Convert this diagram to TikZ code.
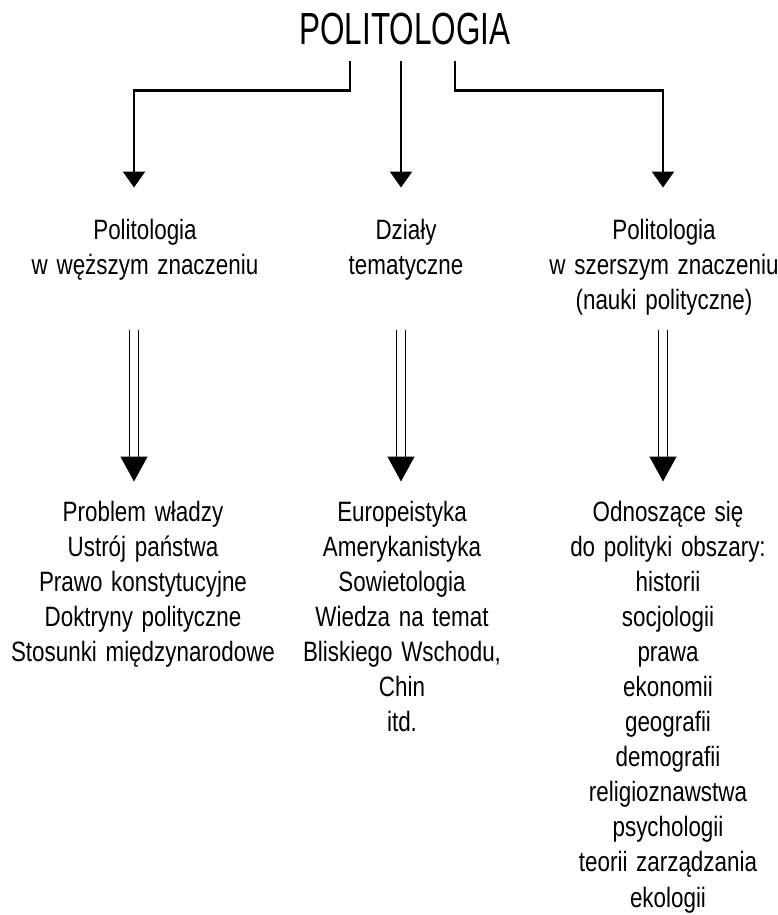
\documentclass[tikz,border=0pt]{standalone}
\usepackage{fontspec}
\setmainfont{Liberation Sans}[FakeStretch=0.8, WordSpace=1.4]
\newfontfamily\tytulfont{Liberation Sans}[FakeStretch=0.7]
\usetikzlibrary{arrows.meta}
\tikzset{x=1pt, y=1pt,
         every node/.style={ % Text only, no frames
           inner sep=0pt,
           align=center,
           anchor=base,      % base = baseline of the last line
           font=\fontsize{28}{35}\selectfont},
         strzalka/.style={   % Single arrows from the title
           draw,
           line width=2.4pt,
           -{Triangle[width=22pt,length=16pt]}},
         podwojna/.style={   % Double arrows down to the lists
           draw,
           double,
           double distance=8pt,
           line width=1.1pt,
           -{Triangle[width=27pt,length=25pt]},
           shorten >=20pt}}

\begin{document}
\begin{tikzpicture}
\useasboundingbox (0,0) rectangle (778,915);

\node[font=\tytulfont\fontsize{45}{50}\selectfont] (tytul) at (405,870) {POLITOLOGIA};

\node (waska) at (145,640) {Politologia\\w węższym znaczeniu};
\node (dzialy) at (406,640) {Działy\\tematyczne};
\node (szeroka) at (664,605) {Politologia\\w szerszym znaczeniu\\(nauki polityczne)};

\node (listaW) at (143,253) {Problem władzy\\Ustrój państwa\\Prawo konstytucyjne\\Doktryny polityczne\\Stosunki międzynarodowe};
\node (listaD) at (402,183) {Europeistyka\\Amerykanistyka\\Sowietologia\\Wiedza na temat\\Bliskiego Wschodu,\\Chin\\itd.};
\node (listaS) at (668,8) {Odnoszące się\\do polityki obszary:\\historii\\socjologii\\prawa\\ekonomii\\geografii\\demografii\\religioznawstwa\\psychologii\\teorii zarządzania\\ekologii};

\draw[strzalka, shorten <=15pt, shorten >=32pt] ([xshift=-55pt]tytul.south) -- ++(0,-45) -| ([xshift=-11pt]waska.north);
\draw[strzalka, shorten <=15pt, shorten >=32pt] ([xshift=-4pt]tytul.south) -- ([xshift=-4pt]tytul.south |- dzialy.north);
\draw[strzalka, shorten <=15pt, shorten >=32pt] ([xshift=50pt]tytul.south) -- ++(0,-45) -| ([xshift=-1pt]szeroka.north);

\draw[podwojna, shorten <=49pt] ([xshift=-11pt]waska.south) -- ([xshift=-11pt]waska.south |- listaW.north);
\draw[podwojna, shorten <=49pt] ([xshift=-5pt]dzialy.south) -- ([xshift=-5pt]dzialy.south |- listaD.north);
\draw[podwojna, shorten <=14pt] ([xshift=-1pt]szeroka.south) -- ([xshift=-1pt]szeroka.south |- listaS.north);

\end{tikzpicture}
\end{document}
